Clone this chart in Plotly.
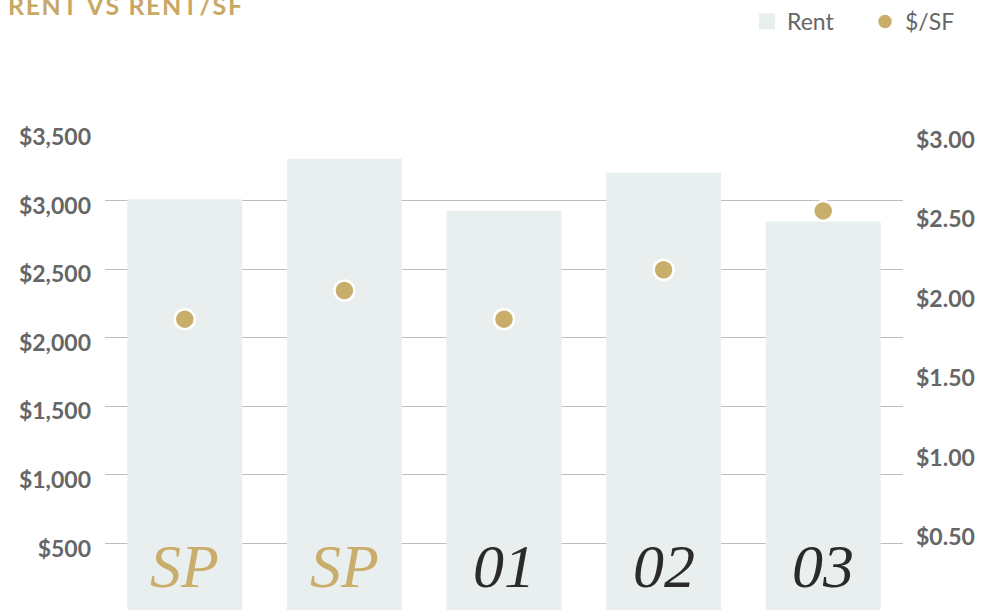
import plotly.graph_objects as go

# ---- data ----
period_labels = ["SP", "SP", "01", "02", "03"]
label_colors = ["#C9AD6B", "#C9AD6B", "#2B2B2B", "#2B2B2B", "#2B2B2B"]
rent = [3010, 3305, 2926, 3203, 2848]
rent_per_sf = [1.84, 2.02, 1.84, 2.15, 2.52]
x_pos = list(range(len(period_labels)))

BAR_COLOR = "#E9EFEF"
GOLD = "#C9AD6B"
TICK_COLOR = "#666666"
Y_MIN = 14.6          # axis floor (the $0 line sits just below the visible frame)
LABEL_ANCHOR = 20     # in-range anchor for the period labels inside the bars

fig = go.Figure()
fig.add_trace(go.Bar(
    x=x_pos, y=rent, name="Rent", marker=dict(color=BAR_COLOR, line=dict(width=0)),
    hoverinfo="skip", showlegend=False, legendgroup="rent",
))
# legend-only entry so the legend swatch can be a larger square
fig.add_trace(go.Scatter(
    x=[None], y=[None], name="Rent", mode="markers", legendgroup="rent",
    marker=dict(color=BAR_COLOR, size=18, symbol="square"), hoverinfo="skip",
))
fig.add_trace(go.Scatter(
    x=x_pos, y=rent_per_sf, name="$/SF", yaxis="y2", mode="markers",
    marker=dict(color=GOLD, size=20, line=dict(color="white", width=2.5)),
    hoverinfo="skip",
))

annotations = []
for xp, lab, col in zip(x_pos, period_labels, label_colors):
    annotations.append(dict(
        x=xp, y=LABEL_ANCHOR, xref="x", yref="y", text=lab, showarrow=False,
        yanchor="bottom", yshift=7,
        font=dict(family="Liberation Serif", size=62, color=col, style="italic"),
    ))

title_text = "\u200a".join(list("RENT VS RENT/SF"))
annotations.append(dict(
    x=0, y=1, xref="paper", yref="paper", text=title_text, showarrow=False,
    xanchor="left", yanchor="top", xshift=-99, yshift=144,
    font=dict(family="Lato", size=25, color="#C8A864", weight="bold"),
))

fig.update_layout(
    width=981, height=610,
    margin=dict(l=105, r=78, t=132, b=0, pad=0),
    paper_bgcolor="white", plot_bgcolor="white",
    bargap=0.28,
    showlegend=True,
    legend=dict(
        orientation="h", xref="container", yref="container",
        x=0.7615, xanchor="left", y=1.0, yanchor="top",
        font=dict(family="Lato", size=23, color=TICK_COLOR),
        itemsizing="trace", bgcolor="rgba(0,0,0,0)",
        entrywidth=73, entrywidthmode="pixels",
    ),
    xaxis=dict(range=[-0.5, 4.5], showticklabels=False, showgrid=False,
               zeroline=False, showline=False, fixedrange=True, automargin=False),
    yaxis=dict(
        range=[Y_MIN, 3500.5], tick0=0, dtick=500, tickprefix="$", tickformat=",",
        showgrid=True, gridcolor="#BDBDBD", gridwidth=1.2, zeroline=False,
        showline=False, ticklabelstandoff=13, ticklabelshift=5, automargin=False,
        tickfont=dict(family="Lato", size=23, color=TICK_COLOR, weight="bold"),
    ),
    yaxis2=dict(
        range=[0.0126, 3.0157], tick0=0, dtick=0.5, tickprefix="$", tickformat=".2f",
        overlaying="y", side="right", showgrid=False, zeroline=False, showline=False,
        ticklabelstandoff=12, ticklabelshift=5, automargin=False,
        tickfont=dict(family="Lato", size=23, color=TICK_COLOR, weight="bold"),
    ),
    annotations=annotations,
)

fig.write_html(
    "out.html",
    config={"displayModeBar": False},
    post_script="document.body.style.margin='0';document.body.style.overflow='hidden';",
)
